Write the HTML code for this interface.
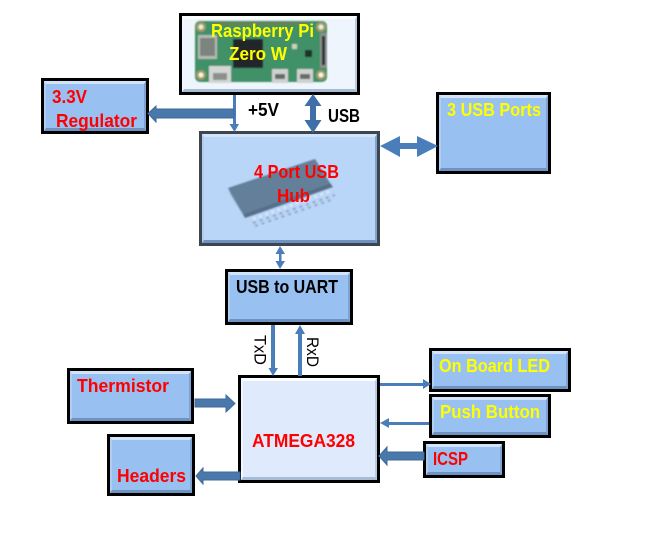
<!DOCTYPE html>
<html><head><meta charset="utf-8"><style>
html,body{margin:0;padding:0;background:#fff;width:671px;height:553px;overflow:hidden}
.b{position:absolute;box-sizing:border-box;border:3px solid #000;background:#98c0f0}
.b::before{content:"";position:absolute;left:0;top:0;right:0;bottom:0;box-sizing:border-box;border:solid;border-width:3px 2px 3px 2px;border-color:#d3e4fa #7fa3d0 #6f93c0 #b0cdf2}
.l{background:#dfeafc}
.l::before{border-color:#fbfdff #b9cbe3 #a9bcd6 #f2f7ff}
svg{position:absolute;left:0;top:0}
text{font-family:"Liberation Sans",sans-serif;font-weight:bold;font-size:18px}
.r{fill:#ff0000}.y{fill:#ffff00}.k{fill:#000}
</style></head><body>
<div class="b l" style="left:179px;top:13px;width:181px;height:82px;background:#eff5fd"></div>
<div class="b" style="left:199px;top:131px;width:181px;height:115px;background:#b9d5f8;border-color:#3d454e"></div>
<div class="b" style="left:41px;top:78px;width:108px;height:56px"></div>
<div class="b" style="left:436px;top:92px;width:115px;height:82px"></div>
<div class="b" style="left:225px;top:269px;width:128px;height:56px"></div>
<div class="b l" style="left:238px;top:375px;width:142px;height:108px"></div>
<div class="b" style="left:67px;top:368px;width:127px;height:56px"></div>
<div class="b" style="left:107px;top:434px;width:88px;height:62px"></div>
<div class="b" style="left:429px;top:348px;width:142px;height:44px"></div>
<div class="b" style="left:429px;top:394px;width:122px;height:44px"></div>
<div class="b" style="left:423px;top:441px;width:82px;height:37px"></div>
<svg width="671" height="553" viewBox="0 0 671 553" xmlns="http://www.w3.org/2000/svg">
<defs><filter id="s" x="-5%" y="-5%" width="110%" height="110%"><feGaussianBlur stdDeviation="0.7"/></filter></defs>
<!-- Pi board -->
<g filter="url(#s)">
<rect x="195" y="21" width="132" height="61" rx="5" fill="#3f9068"/>
<rect x="212" y="22" width="96" height="3" fill="#6b7f55"/>
<circle cx="201" cy="27" r="5" fill="#a69a5e"/><circle cx="201" cy="27" r="2.500" fill="#e8ece4"/>
<circle cx="321" cy="27" r="5" fill="#a69a5e"/><circle cx="321" cy="27" r="2.500" fill="#e8ece4"/>
<circle cx="201" cy="75" r="5" fill="#a69a5e"/><circle cx="201" cy="75" r="2.500" fill="#f2f5f2"/>
<circle cx="321" cy="75" r="5" fill="#a69a5e"/><circle cx="321" cy="75" r="2.500" fill="#f2f5f2"/>
<rect x="198" y="35" width="19" height="24" fill="#b5bab4"/><rect x="200" y="38" width="15" height="18" fill="#7d847e"/>
<rect x="233" y="39" width="30" height="29" fill="#22282a"/>
<rect x="209" y="66" width="22" height="17" fill="#d3d6d3"/><rect x="213" y="73" width="14" height="7" fill="#8c908c"/>
<rect x="272" y="69" width="16" height="14" fill="#cfd2d0"/><rect x="275" y="74" width="10" height="5" fill="#666c69"/>
<rect x="297" y="69" width="16" height="14" fill="#cfd2d0"/><rect x="300" y="74" width="10" height="5" fill="#666c69"/>
<rect x="320" y="33" width="7" height="35" fill="#8a908c"/><rect x="322" y="36" width="3" height="29" fill="#2c3130"/>
<rect x="305" y="50" width="7" height="7" fill="#20302a"/><rect x="292" y="44" width="5" height="5" fill="#ccd2b8"/>
</g>
<!-- Hub chip -->
<g filter="url(#s)">
<polygon points="228,188 315,159 330,183 243,214" fill="#647f99"/>
<polygon points="228,188 243,214 245,218 231,195" fill="#7d95ac"/>
<polygon points="243,214 330,183 333,187 245,218" fill="#567089"/>
<g stroke="#dfe9f5" stroke-width="2.500" stroke-dasharray="3 3.500" fill="none">
<line x1="253" y1="219" x2="331" y2="191"/>
</g>
<g stroke="#8ea8c6" stroke-width="2" stroke-dasharray="3 4" fill="none">
<line x1="253" y1="223" x2="335" y2="195"/>
<line x1="255" y1="226" x2="331" y2="200"/>
</g>
</g>
<!-- Thin +5V -->
<g fill="#4a7ebb">
<rect x="233" y="95" width="3" height="30"/><polygon points="229.500,124 239,124 234.500,132"/>
<!-- USB double -->
<polygon points="313,94 321.500,106 316,106 316,120 321.500,120 313,133 304.500,120 310,120 310,106 304.500,106" fill="#3f6fa8"/>
<!-- 3 USB double -->
<polygon points="380,146 400,136 400,143 417,143 417,136 438,146 417,157 417,149 400,149 400,157"/>
<!-- Hub-UART -->
<polygon points="280,246 285,254 281.500,254 281.500,261 285,261 280,269 275.500,261 279,261 279,254 275.500,254"/>
<!-- TxD / RxD -->
<rect x="271" y="325" width="4" height="44"/><polygon points="268.500,368 278,368 273,376"/>
<rect x="298" y="333" width="4" height="43"/><polygon points="295,334 305,334 300,325"/>
<!-- LED / Push -->
<rect x="380" y="383" width="44" height="3"/><polygon points="423,379 423,389 431,384"/>
<rect x="388" y="422" width="41" height="3"/><polygon points="389,418 389,428 380,423"/>
</g>
<!-- Thick block arrows -->
<g fill="#4a78ab" stroke="#3d6a9b" stroke-width="1">
<polygon points="234,109 156,109 156,106 148,113.500 156,122 156,118 234,118"/>
<polygon points="195,399 226,399 226,395 235,403.500 226,412 226,407 195,407"/>
<polygon points="240,472 203,472 203,468 196,476 203,484 203,480 240,480"/>
<polygon points="424,452 387,452 387,447 379,456 387,465 387,460 424,460"/>
</g>
<!-- Labels -->
<text x="211" y="37" class="y" textLength="103" lengthAdjust="spacingAndGlyphs">Raspberry Pi</text>
<text x="229" y="60" class="y" textLength="58" lengthAdjust="spacingAndGlyphs">Zero W</text>
<text x="248" y="116" class="k" textLength="31" lengthAdjust="spacingAndGlyphs">+5V</text>
<text x="328" y="122" class="k" textLength="32" lengthAdjust="spacingAndGlyphs">USB</text>
<text x="254" y="178" class="r" textLength="85" lengthAdjust="spacingAndGlyphs">4 Port USB</text>
<text x="277" y="202" class="r" textLength="33" lengthAdjust="spacingAndGlyphs">Hub</text>
<text x="52" y="103" class="r" textLength="35" lengthAdjust="spacingAndGlyphs">3.3V</text>
<text x="56" y="127" class="r" textLength="81" lengthAdjust="spacingAndGlyphs">Regulator</text>
<text x="447" y="116" class="y" textLength="94" lengthAdjust="spacingAndGlyphs">3 USB Ports</text>
<text x="236" y="293" class="k" textLength="102" lengthAdjust="spacingAndGlyphs">USB to UART</text>
<text x="77" y="392" class="r" textLength="92" lengthAdjust="spacingAndGlyphs">Thermistor</text>
<text x="117" y="482" class="r" textLength="69" lengthAdjust="spacingAndGlyphs">Headers</text>
<text x="439" y="372" class="y" textLength="111" lengthAdjust="spacingAndGlyphs">On Board LED</text>
<text x="440" y="418" class="y" textLength="100" lengthAdjust="spacingAndGlyphs">Push Button</text>
<text x="433" y="465" class="r" textLength="35" lengthAdjust="spacingAndGlyphs">ICSP</text>
<text x="252" y="447" class="r" textLength="103" lengthAdjust="spacingAndGlyphs">ATMEGA328</text>
<text transform="translate(254.500,335) rotate(90)" class="k" style="font-weight:normal;font-size:17px" textLength="30" lengthAdjust="spacingAndGlyphs">TxD</text>
<text transform="translate(307,337) rotate(90)" class="k" style="font-weight:normal;font-size:17px" textLength="30" lengthAdjust="spacingAndGlyphs">RxD</text>
</svg>
</body></html>
